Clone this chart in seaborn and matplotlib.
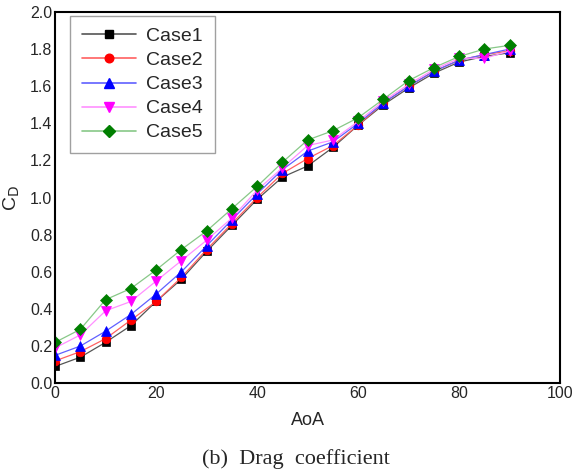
import matplotlib
matplotlib.use("Agg")
import matplotlib.pyplot as plt
from matplotlib.lines import Line2D
import seaborn as sns
import pandas as pd

aoa = [0, 5, 10, 15, 20, 25, 30, 35, 40, 45, 50, 55, 60, 65, 70, 75, 80, 85, 90]
case1 = [0.09, 0.14, 0.22, 0.31, 0.44, 0.56, 0.71, 0.85, 0.99, 1.11, 1.17, 1.27, 1.39, 1.50, 1.59, 1.67, 1.73, 1.76, 1.78]
case2 = [0.12, 0.17, 0.24, 0.34, 0.44, 0.57, 0.72, 0.86, 1.00, 1.13, 1.21, 1.28, 1.39, 1.51, 1.60, 1.68, 1.74, 1.77, 1.79]
case3 = [0.15, 0.20, 0.28, 0.37, 0.48, 0.60, 0.74, 0.88, 1.02, 1.15, 1.25, 1.30, 1.40, 1.51, 1.60, 1.68, 1.74, 1.77, 1.80]
case4 = [0.19, 0.26, 0.39, 0.44, 0.55, 0.66, 0.77, 0.89, 1.04, 1.16, 1.28, 1.31, 1.41, 1.52, 1.61, 1.69, 1.75, 1.75, 1.79]
case5 = [0.22, 0.29, 0.45, 0.51, 0.61, 0.72, 0.82, 0.94, 1.06, 1.19, 1.31, 1.36, 1.43, 1.53, 1.63, 1.70, 1.76, 1.80, 1.82]
names = ["Case1", "Case2", "Case3", "Case4", "Case5"]

series = [case1, case2, case3, case4, case5]
rows = []
for n, s in zip(names, series):
    for a, v in zip(aoa, s):
        rows.append({"AoA": a, "CD": v, "case": n})
df = pd.DataFrame(rows)

sns.set_style("white")
plt.rcParams["font.family"] = ["Liberation Sans", "DejaVu Sans"]

marker_colors = {"Case1": "#000000", "Case2": "#ff0000", "Case3": "#0000ff", "Case4": "#ff00ff", "Case5": "#007f00"}
line_colors = {"Case1": "#555555", "Case2": "#ff6060", "Case3": "#6060ff", "Case4": "#ff90ff", "Case5": "#88c888"}
markers = {"Case1": "s", "Case2": "o", "Case3": "^", "Case4": "v", "Case5": "D"}
msize = {"Case1": 5.2, "Case2": 6.2, "Case3": 6.5, "Case4": 6.5, "Case5": 6.2}

fig = plt.figure(figsize=(5.74, 4.76), dpi=100)
ax = fig.add_axes([0.096, 0.195, 0.88, 0.78])

for n in names:
    sub = df[df["case"] == n]
    sns.lineplot(data=sub, x="AoA", y="CD", ax=ax, color=line_colors[n], linewidth=0.9,
                 marker=markers[n], markersize=msize[n], markerfacecolor=marker_colors[n],
                 markeredgecolor=marker_colors[n], markeredgewidth=0.5, legend=False)

ax.set_xlim(0, 100)
ax.set_ylim(0, 2.0)
ax.set_xticks([0, 20, 40, 60, 80, 100])
ax.set_yticks([0.0, 0.2, 0.4, 0.6, 0.8, 1.0, 1.2, 1.4, 1.6, 1.8, 2.0])
ax.set_yticklabels([f"{v:.1f}" for v in ax.get_yticks()])
ax.tick_params(axis="both", labelsize=11.5, length=0, pad=2)
for sp in ax.spines.values():
    sp.set_color("black")
    sp.set_linewidth(1.5)
ax.set_xlabel("AoA", fontsize=13, labelpad=8)
ax.set_ylabel(r"C$_\mathrm{D}$", fontsize=14, labelpad=6)

handles = [Line2D([0], [0], color=line_colors[n], linewidth=1.2, marker=markers[n],
                  markersize=msize[n], markerfacecolor=marker_colors[n],
                  markeredgecolor=marker_colors[n]) for n in names]
leg = ax.legend(handles, names, loc="upper left", bbox_to_anchor=(0.03, 0.989), fontsize=14,
                frameon=True, fancybox=False, edgecolor="#888888", handlelength=2.8,
                labelspacing=0.33, borderpad=0.6, borderaxespad=0.0, handletextpad=0.5)
leg.get_frame().set_linewidth(1.0)

fig.text(0.516, 0.036, "(b)  Drag  coefficient", ha="center", va="center",
         fontsize=16, family=["Liberation Serif", "DejaVu Serif"])

fig.savefig("out.png", dpi=100)
